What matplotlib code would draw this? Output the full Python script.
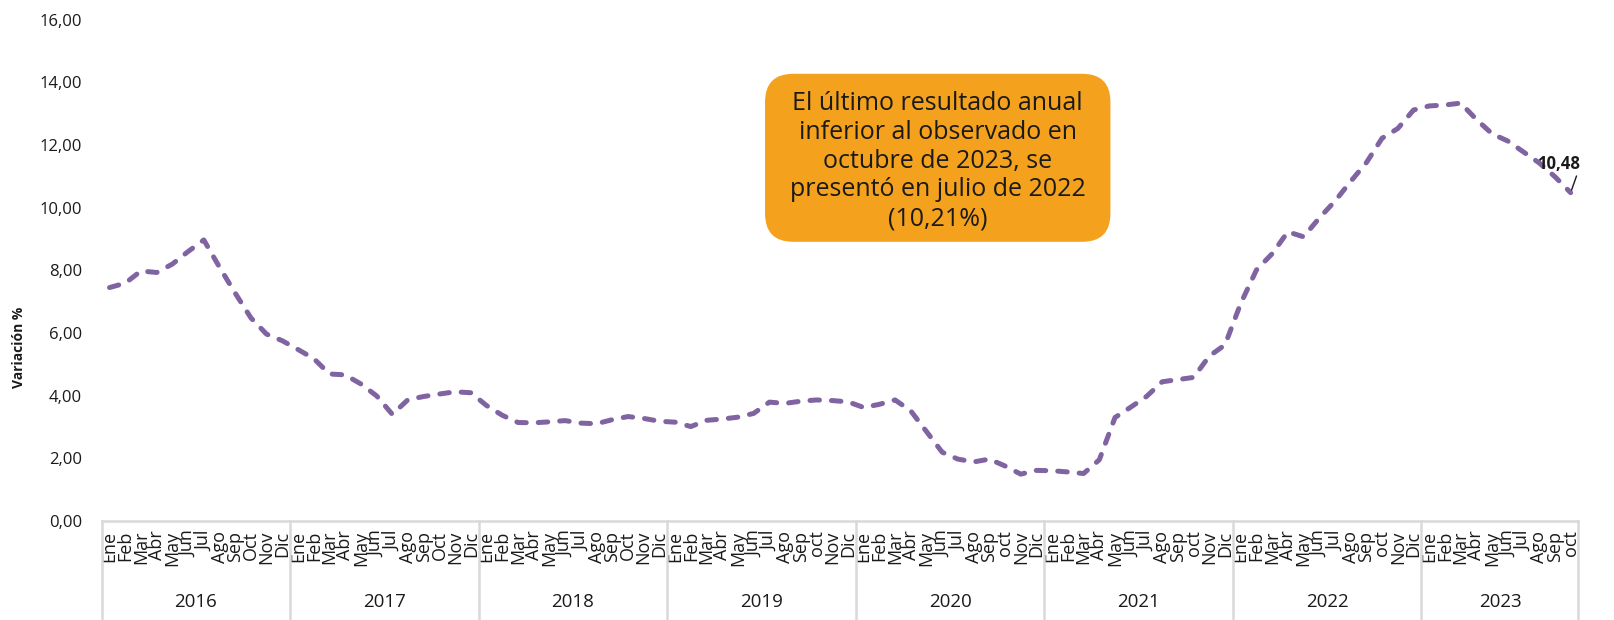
import matplotlib.pyplot as plt
from matplotlib.lines import Line2D
from matplotlib.patches import FancyBboxPatch

plt.rcParams['font.family'] = ['Open Sans', 'DejaVu Sans']

years = ['2016', '2017', '2018', '2019', '2020', '2021', '2022', '2023']
months_upper = ['Ene', 'Feb', 'Mar', 'Abr', 'May', 'Jun', 'Jul', 'Ago', 'Sep', 'Oct', 'Nov', 'Dic']
months_lower = ['Ene', 'Feb', 'Mar', 'Abr', 'May', 'Jun', 'Jul', 'Ago', 'Sep', 'oct', 'Nov', 'Dic']
months_per_year = [12, 12, 12, 12, 12, 12, 12, 10]

# variacion anual %
values = [
    7.45, 7.59, 7.98, 7.93, 8.20, 8.60, 8.97, 8.10, 7.27, 6.48, 5.96, 5.75,
    5.47, 5.18, 4.69, 4.66, 4.37, 3.99, 3.40, 3.87, 3.97, 4.05, 4.12, 4.09,
    3.68, 3.37, 3.14, 3.13, 3.16, 3.20, 3.12, 3.10, 3.23, 3.33, 3.27, 3.18,
    3.15, 3.01, 3.21, 3.25, 3.31, 3.43, 3.79, 3.75, 3.82, 3.86, 3.84, 3.80,
    3.62, 3.72, 3.86, 3.51, 2.85, 2.19, 1.97, 1.88, 1.97, 1.75, 1.49, 1.61,
    1.60, 1.56, 1.51, 1.95, 3.30, 3.63, 3.97, 4.44, 4.51, 4.58, 5.26, 5.62,
    6.94, 8.01, 8.53, 9.23, 9.07, 9.67, 10.21, 10.84, 11.44, 12.22, 12.53, 13.12,
    13.25, 13.28, 13.34, 12.82, 12.36, 12.13, 11.78, 11.43, 10.99, 10.48,
]

labels = []
for yr, n in zip(years, months_per_year):
    src = months_upper if int(yr) < 2019 else months_lower
    labels += src[:n]

x = list(range(len(values)))

fig = plt.figure(figsize=(16.14, 6.2), dpi=100)
ax = fig.add_axes([0.063, 0.160, 0.915, 0.808])

ax.plot(x, values, color='#8064A2', lw=3.6, linestyle=(0, (1.9, 2.4)),
        dash_capstyle='round', solid_capstyle='round')

ax.set_xlim(-0.5, len(values) - 0.5)
ax.set_ylim(0, 16)
ax.set_yticks(range(0, 17, 2))
ax.set_yticklabels([f'{v:.2f}'.replace('.', ',') for v in range(0, 17, 2)],
                   fontsize=12, color='#1a1a1a')
ax.set_xticks(x)
ax.set_xticklabels(labels, rotation=90, fontsize=13, color='#1a1a1a', va='top', ha='center')
ax.tick_params(axis='both', length=0)
ax.tick_params(axis='x', pad=7)
ax.tick_params(axis='y', pad=14)

for s in ['top', 'right', 'left']:
    ax.spines[s].set_visible(False)
ax.spines['bottom'].set_color('#d9d9d9')
ax.spines['bottom'].set_linewidth(1.8)

# year groups under the months
start = 0
bounds = [-0.5]
for yr, n in zip(years, months_per_year):
    center = start + (n - 1) / 2
    ax.text(center, -0.162, yr, transform=ax.get_xaxis_transform(), ha='center', va='center',
            fontsize=13.5, color='#1a1a1a')
    start += n
    bounds.append(start - 0.5)
for b in bounds:
    ax.add_line(Line2D([b, b], [0, -0.2], transform=ax.get_xaxis_transform(),
                       color='#d9d9d9', lw=1.8, clip_on=False))

# last value label
ax.annotate('10,48', xy=(x[-1], values[-1]), xytext=(-9, 14), textcoords='offset points',
            fontsize=12, fontweight='bold', color='#1a1a1a', ha='center', va='bottom',
            arrowprops=dict(arrowstyle='-', color='#1a1a1a', lw=1, relpos=(0.95, 0),
                            shrinkA=0, shrinkB=2))

# callout
box = FancyBboxPatch((0.474, 0.610), 0.214, 0.271, transform=fig.transFigure,
                     boxstyle='round,pad=0,rounding_size=0.0175',
                     mutation_aspect=1614 / 620, fc='#F4A11E', ec='none')
fig.patches.append(box)
fig.text(0.581, 0.740, 'El último resultado anual\ninferior al observado en\noctubre de 2023, se\npresentó en julio de 2022\n(10,21%)',
         ha='center', va='center', fontsize=18, color='#1a1a1a', linespacing=1.2)

fig.text(0.012, 0.44, 'Variación %', rotation=90, ha='center', va='center',
         fontsize=10, fontweight='bold', color='#1a1a1a')

fig.savefig('out.png', dpi=100)
